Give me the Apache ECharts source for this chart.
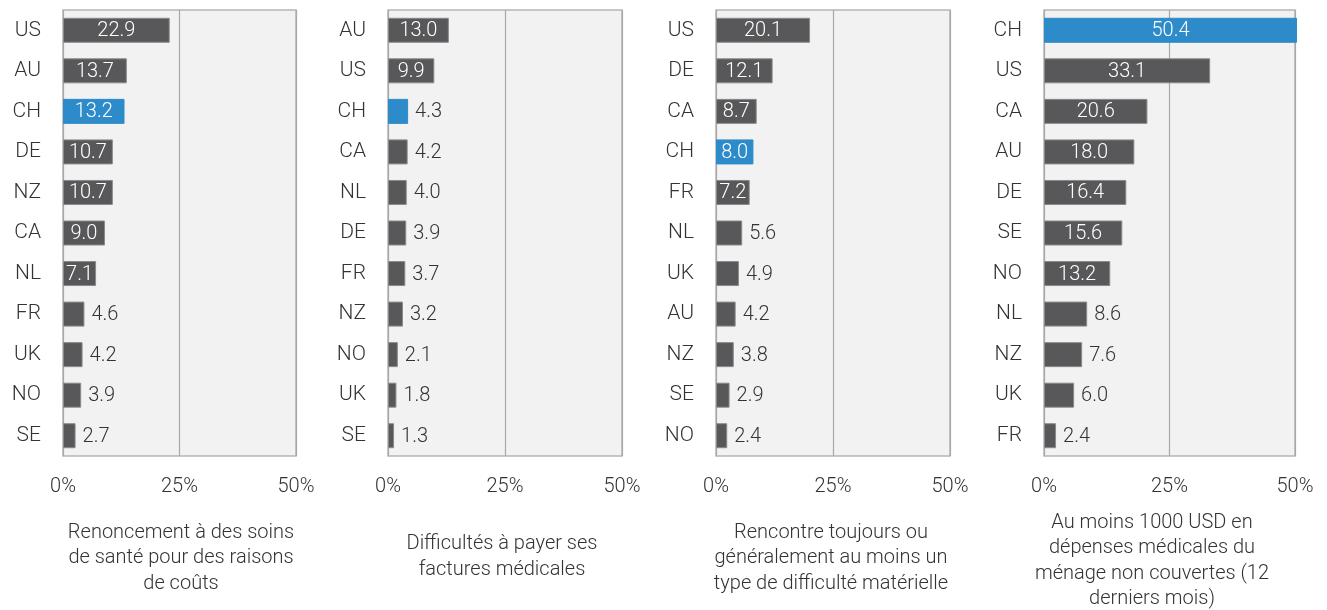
<!DOCTYPE html>
<html>
<head>
<meta charset="utf-8">
<script src="https://cdn.jsdelivr.net/npm/echarts@6/dist/echarts.min.js"></script>
<style>
  html, body { margin: 0; padding: 0; background: #fff; }
  #chart { width: 1327px; height: 610px; }
</style>
</head>
<body>
<div id="chart"></div>
<script>
// data, one pair of arrays per panel
var cats1 = ['US', 'AU', 'CH', 'DE', 'NZ', 'CA', 'NL', 'FR', 'UK', 'NO', 'SE'];
var vals1 = [22.9, 13.7, 13.2, 10.7, 10.7, 9.0, 7.1, 4.6, 4.2, 3.9, 2.7];
var cats2 = ['AU', 'US', 'CH', 'CA', 'NL', 'DE', 'FR', 'NZ', 'NO', 'UK', 'SE'];
var vals2 = [13.0, 9.9, 4.3, 4.2, 4.0, 3.9, 3.7, 3.2, 2.1, 1.8, 1.3];
var cats3 = ['US', 'DE', 'CA', 'CH', 'FR', 'NL', 'UK', 'AU', 'NZ', 'SE', 'NO'];
var vals3 = [20.1, 12.1, 8.7, 8.0, 7.2, 5.6, 4.9, 4.2, 3.8, 2.9, 2.4];
var cats4 = ['CH', 'US', 'CA', 'AU', 'DE', 'SE', 'NO', 'NL', 'NZ', 'UK', 'FR'];
var vals4 = [50.4, 33.1, 20.6, 18.0, 16.4, 15.6, 13.2, 8.6, 7.6, 6.0, 2.4];
var titles = [
  'Renoncement à des soins\nde santé pour des raisons\nde coûts',
  'Difficultés à payer ses\nfactures médicales',
  'Rencontre toujours ou\ngénéralement au moins un\ntype de difficulté matérielle',
  'Au moins 1000 USD en\ndépenses médicales du\nménage non couvertes (12\nderniers mois)'
];
var xTicks = [0, 25, 50];

var panels = [
  { cats: cats1, vals: vals1, left: 63, width: 233, inside: 7, titleX: 181, titleY: 558 },
  { cats: cats2, vals: vals2, left: 388, width: 234, inside: 9, titleX: 502, titleY: 557 },
  { cats: cats3, vals: vals3, left: 716, width: 234, inside: 7, titleX: 831, titleY: 558 },
  { cats: cats4, vals: vals4, left: 1044, width: 251, inside: 10, titleX: 1152, titleY: 561 }
];

var FONT = 'Roboto';
var dark = '#58585a';
var blue = '#2e8bc9';

var grids = [], xAxes = [], yAxes = [], series = [], graphics = [];

panels.forEach(function (p, i) {
  grids.push({
    left: p.left, top: 10, width: p.width, height: 446,
    show: true, backgroundColor: '#f2f2f2', borderColor: '#b5b5b5', borderWidth: 1.5
  });
  xAxes.push({
    gridIndex: i, type: 'value', min: xTicks[0], max: xTicks[2], interval: xTicks[1],
    axisLine: { show: false }, axisTick: { show: false },
    splitLine: { show: true, lineStyle: { color: '#a8a8a8', width: 1.2 } },
    axisLabel: { formatter: '{value}%', fontFamily: FONT, fontWeight: 300, fontSize: 20, color: '#333', margin: 21 }
  });
  yAxes.push({
    gridIndex: i, type: 'category', inverse: true, data: p.cats,
    axisLine: { show: false }, axisTick: { show: false },
    axisLabel: { fontFamily: FONT, fontWeight: 300, fontSize: 21, color: '#333', margin: 22, padding: [6, 0, 0, 0] }
  });
  series.push({
    type: 'bar', xAxisIndex: i, yAxisIndex: i, barWidth: 25, clip: false,
    data: p.vals.map(function (v, k) {
      var isCH = p.cats[k] === 'CH';
      var inside = v > p.inside;
      return {
        value: v,
        itemStyle: {
          color: isCH ? blue : dark,
          borderColor: isCH ? blue : '#8a8a8a',
          borderWidth: 1
        },
        label: inside
          ? { position: 'inside', color: '#fff' }
          : { position: 'right', distance: 7, color: '#333' }
      };
    }),
    label: {
      show: true, fontFamily: FONT, fontWeight: 300, fontSize: 20, offset: [0, 1],
      formatter: function (d) { return d.value.toFixed(1); }
    }
  });
  graphics.push({
    type: 'text', x: p.titleX, y: p.titleY,
    style: {
      text: titles[i], align: 'center', verticalAlign: 'middle',
      font: '300 20px ' + FONT, lineHeight: 25.5, fill: '#333'
    }
  });
});

var chart = echarts.init(document.getElementById('chart'));
chart.setOption({
  animation: false,
  grid: grids,
  xAxis: xAxes,
  yAxis: yAxes,
  series: series,
  graphic: graphics
});
</script>
</body>
</html>
